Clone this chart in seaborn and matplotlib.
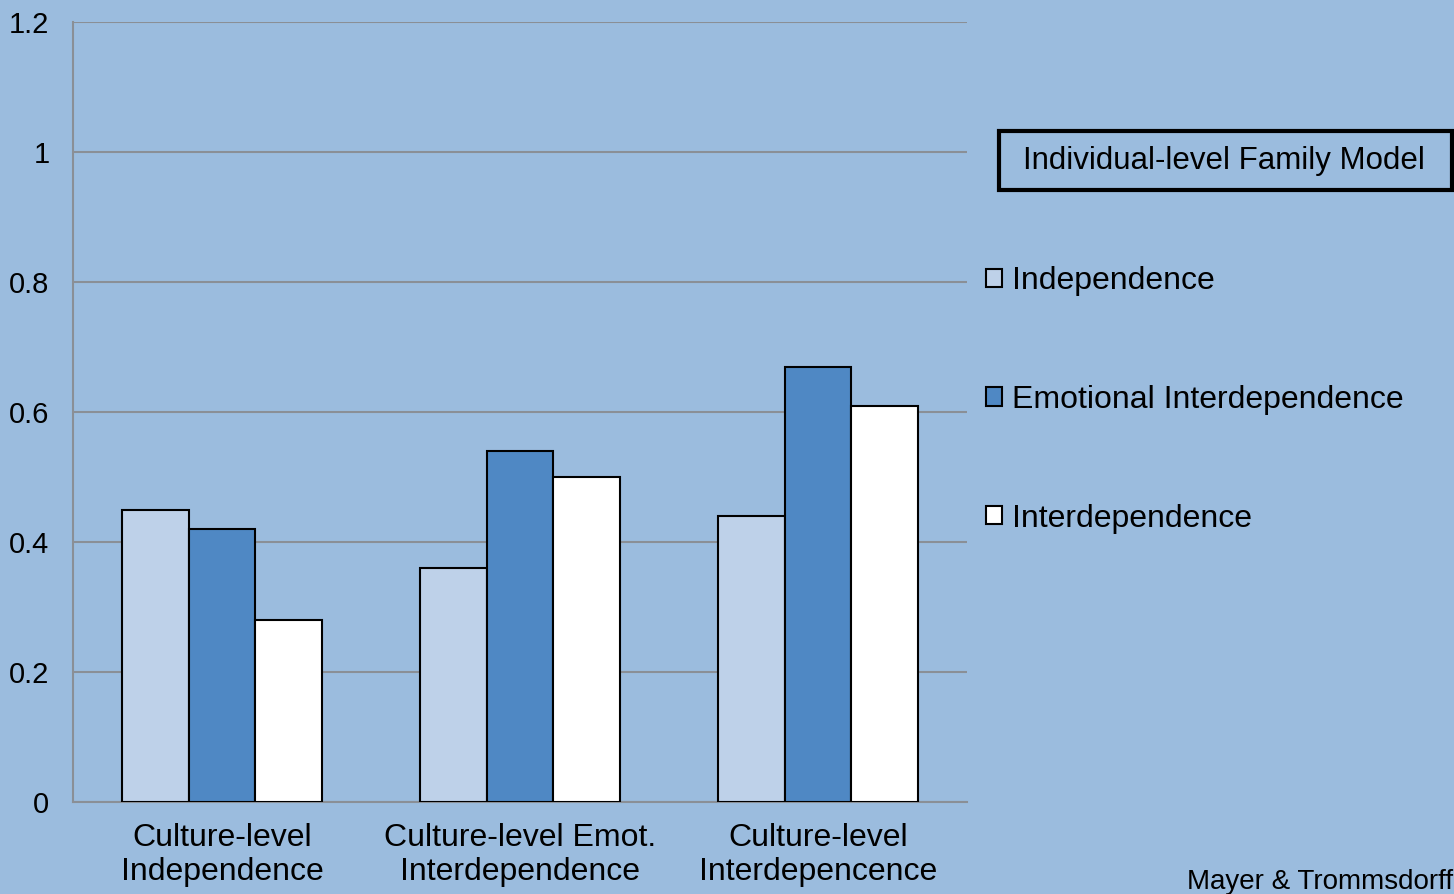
import pandas as pd
import matplotlib
matplotlib.use("Agg")
import matplotlib.pyplot as plt
import matplotlib.patches as mpatches
import seaborn as sns

# Chart data
categories = ["Culture-level\nIndependence",
              "Culture-level Emot.\nInterdependence",
              "Culture-level\nInterdepencence"]
series = ["Independence", "Emotional Interdependence", "Interdependence"]
independence = [0.45, 0.36, 0.44]
emotional = [0.42, 0.54, 0.67]
interdependence = [0.28, 0.50, 0.61]
y_ticks = [0, 0.2, 0.4, 0.6, 0.8, 1.0, 1.2]

bg = "#9BBCDE"
colors = ["#BED1E9", "#4F88C4", "#FFFFFF"]
grid_col = "#8A8F96"

# Long-form table for seaborn
rows = []
for name, vals in zip(series, [independence, emotional, interdependence]):
    for cat, v in zip(categories, vals):
        rows.append({"category": cat, "model": name, "value": v})
df = pd.DataFrame(rows)

sns.set_style("white")
plt.rcParams["font.family"] = ["Liberation Sans", "DejaVu Sans"]
plt.rcParams["text.color"] = "black"
plt.rcParams["xtick.color"] = "black"
plt.rcParams["ytick.color"] = "black"

fig = plt.figure(figsize=(14.54, 8.94), dpi=100, facecolor=bg)
ax = fig.add_axes([73 / 1454, 92 / 894, 894 / 1454, 780 / 894])
ax.set_facecolor(bg)

sns.barplot(data=df, x="category", y="value", hue="model", hue_order=series,
            order=categories, palette=colors, width=0.67, edgecolor="black",
            linewidth=1.5, saturation=1, ax=ax, zorder=3)

# Axes styling
ax.set_ylim(0, 1.2)
ax.set_xlim(-0.5, 2.5)
ax.set_yticks(y_ticks)
ax.set_yticklabels([f"{v:g}" for v in y_ticks], fontsize=21)
ax.yaxis.grid(True, color=grid_col, linewidth=1.5, zorder=0)
ax.set_axisbelow(True)
ax.tick_params(axis="y", length=7, width=1.5, color=grid_col, labelcolor="black", pad=10)
ax.tick_params(axis="x", which="major", length=0, pad=15, labelsize=23, labelcolor="black")
ax.set_xticks([-0.5, 0.5, 1.5, 2.5], minor=True)
ax.tick_params(axis="x", which="minor", length=9, width=1.5, color=grid_col)
for lab in ax.get_xticklabels():
    lab.set_linespacing(1.2)
ax.set_xlabel("")
ax.set_ylabel("")
for s in ["top", "right"]:
    ax.spines[s].set_visible(False)
for s in ["left", "bottom"]:
    ax.spines[s].set_color(grid_col)
    ax.spines[s].set_linewidth(1.5)

# Legend to the right
handles, labels = ax.get_legend_handles_labels()
leg = ax.legend(handles, labels, loc="upper left", bbox_to_anchor=(986 / 1454, 1 - 266 / 894),
                bbox_transform=fig.transFigure, frameon=False, fontsize=23,
                handlelength=0.5, handleheight=0.5, handletextpad=0.3,
                labelspacing=2.78, borderaxespad=0, borderpad=0)
for t in leg.get_texts():
    t.set_color("black")

# Legend header box
fig.patches.append(mpatches.Rectangle((999 / 1454, 1 - 190 / 894), 453 / 1454, 59 / 894,
                                      transform=fig.transFigure, fill=False,
                                      edgecolor="black", linewidth=3))
fig.text(1224 / 1454, 1 - 161 / 894, "Individual-level Family Model",
         ha="center", va="center", fontsize=22.5)

fig.text(1187 / 1454, 1 - 889 / 894, "Mayer & Trommsdorff",
         ha="left", va="baseline", fontsize=20)

fig.savefig("out.png", dpi=100, facecolor=bg)
